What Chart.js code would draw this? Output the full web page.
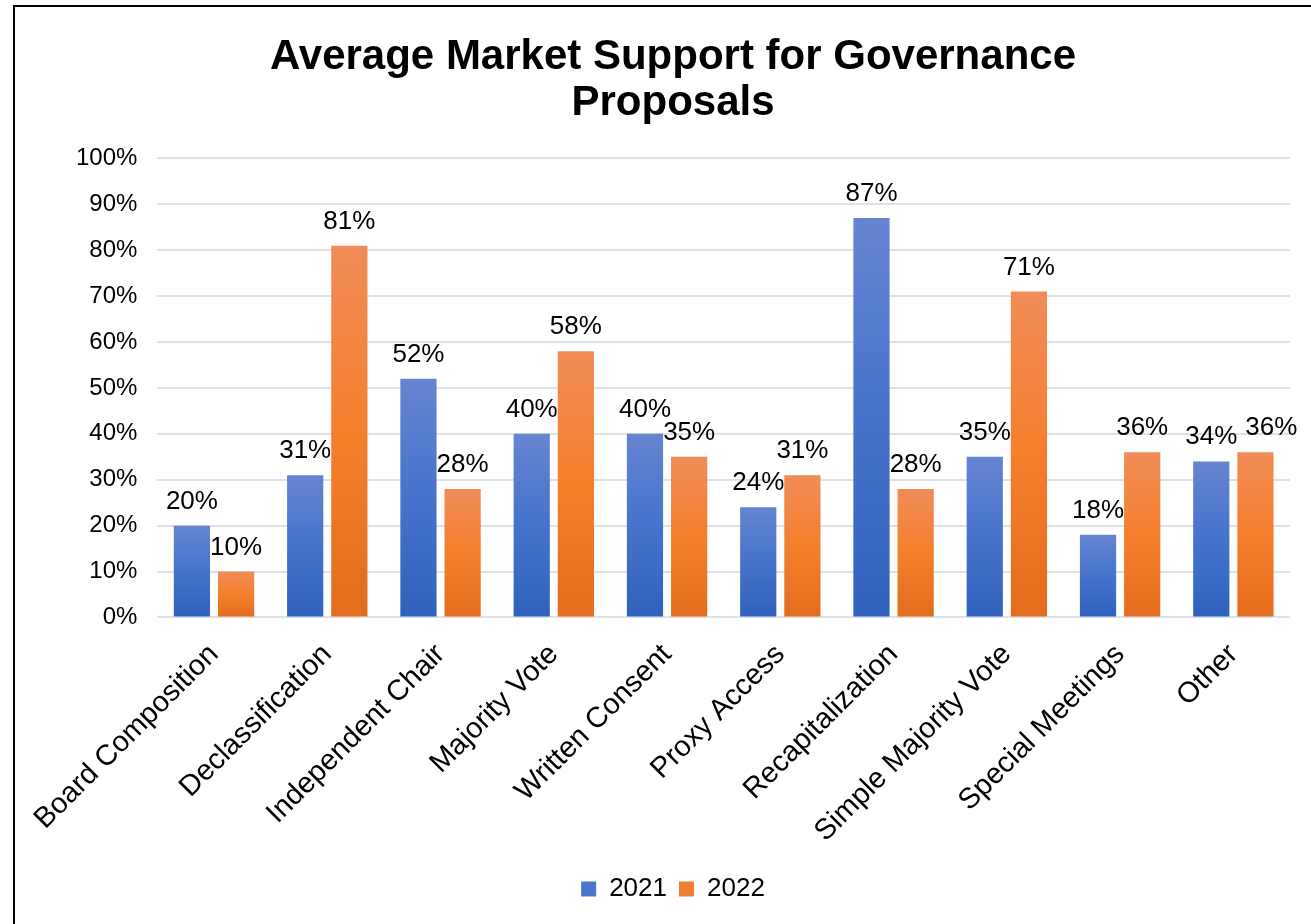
<!DOCTYPE html>
<html>
<head>
<meta charset="utf-8">
<script src="https://cdn.jsdelivr.net/npm/chart.js@4.4.1/dist/chart.umd.min.js"></script>
<style>
  html, body { margin: 0; padding: 0; background: #fff; overflow: hidden; }
  #frame {
    position: absolute; left: 13px; top: 5px; width: 1400px; height: 1000px;
    border-left: 2px solid #000; border-top: 2px solid #000;
  }
  #wrap { position: absolute; left: 0; top: 0; width: 1311px; height: 924px; }
</style>
</head>
<body>
<div id="frame"></div>
<div id="wrap"><canvas id="supportChart"></canvas></div>
<script>
const categories = [
  'Board Composition', 'Declassification', 'Independent Chair', 'Majority Vote',
  'Written Consent', 'Proxy Access', 'Recapitalization', 'Simple Majority Vote',
  'Special Meetings', 'Other'
];
const support2021 = [20, 31, 52, 40, 40, 24, 87, 35, 18, 34];
const support2022 = [10, 81, 28, 58, 35, 31, 28, 71, 36, 36];
const yTicks = [0, 10, 20, 30, 40, 50, 60, 70, 80, 90, 100];

const FONT = 'Liberation Sans, Arial, sans-serif';

// vertical gradient per bar: lighter at the top, darker at the base
function barGradient(top, mid, bottom, flat) {
  return function(ctx) {
    const chart = ctx.chart;
    if (!chart.chartArea || ctx.type !== 'data') return flat;
    const y = chart.scales.y;
    const y0 = y.getPixelForValue(ctx.raw);
    const y1 = y.getPixelForValue(0);
    if (!isFinite(y0) || y1 - y0 < 1) return flat;
    const g = chart.ctx.createLinearGradient(0, y0, 0, y1);
    g.addColorStop(0, top);
    g.addColorStop(0.5, mid);
    g.addColorStop(1, bottom);
    return g;
  };
}

// percentage labels above each bar; the second label of a pair is pushed
// right when both sit at about the same height and would collide
const valueLabels = {
  id: 'valueLabels',
  afterDatasetsDraw(chart) {
    const ctx = chart.ctx;
    ctx.save();
    ctx.font = '26px ' + FONT;
    ctx.fillStyle = '#000';
    ctx.textAlign = 'center';
    ctx.textBaseline = 'alphabetic';
    const first = chart.getDatasetMeta(0).data;
    const second = chart.getDatasetMeta(1).data;
    categories.forEach((c, j) => {
      const t1 = Math.round(chart.data.datasets[0].data[j]) + '%';
      const t2 = Math.round(chart.data.datasets[1].data[j]) + '%';
      const a = first[j], b = second[j];
      const w1 = ctx.measureText(t1).width, w2 = ctx.measureText(t2).width;
      let x2 = b.x;
      if (Math.abs(a.y - b.y) < 20 && (b.x - w2 / 2) < (a.x + w1 / 2 + 8)) {
        x2 = a.x + w1 / 2 + 8 + w2 / 2;
      }
      ctx.fillText(t1, a.x, a.y - 17);
      ctx.fillText(t2, x2, b.y - 17);
    });
    ctx.restore();
  }
};

new Chart(document.getElementById('supportChart'), {
  type: 'bar',
  data: {
    labels: categories,
    datasets: [
      {
        label: '2021',
        data: support2021,
        backgroundColor: barGradient('#6585d0', '#4673cc', '#2f62bc', '#4472c4'),
        categoryPercentage: 0.78,
        barPercentage: 0.82
      },
      {
        label: '2022',
        data: support2022,
        backgroundColor: barGradient('#f18c58', '#f47f2b', '#e36c1d', '#ed7d31'),
        categoryPercentage: 0.78,
        barPercentage: 0.82
      }
    ]
  },
  options: {
    responsive: true,
    maintainAspectRatio: false,
    animation: false,
    layout: { padding: { top: 34, left: 56, right: 21, bottom: 12 } },
    plugins: {
      title: {
        display: true,
        text: ['Average Market Support for Governance', 'Proposals'],
        color: '#000',
        font: { family: FONT, size: 42, weight: 'bold', lineHeight: 1.1 },
        padding: { top: 0, bottom: 32 }
      },
      legend: {
        position: 'bottom',
        labels: {
          color: '#000',
          font: { family: FONT, size: 26 },
          boxWidth: 15,
          boxHeight: 15,
          padding: 12,
          generateLabels(chart) {
            const fills = ['#4a76cb', '#f07f33'];
            return chart.data.datasets.map((ds, i) => ({
              text: ds.label,
              fillStyle: fills[i],
              strokeStyle: fills[i],
              lineWidth: 0,
              datasetIndex: i,
              fontColor: '#000'
            }));
          }
        }
      },
      tooltip: { enabled: false }
    },
    scales: {
      x: {
        grid: { display: false },
        border: { display: false },
        afterFit(axis) {
          // a little room between the rotated labels and the legend
          axis.height += 3;
        },
        ticks: {
          color: '#000',
          font: { family: FONT, size: 29 },
          minRotation: 45,
          maxRotation: 45,
          padding: 12
        }
      },
      y: {
        min: 0,
        max: 100,
        afterBuildTicks(axis) {
          axis.ticks = yTicks.map(v => ({ value: v }));
        },
        grid: { color: '#dde1e8', lineWidth: 2, drawTicks: false },
        border: { display: false },
        ticks: {
          color: '#000',
          font: { family: FONT, size: 24 },
          padding: 20,
          callback: v => v + '%'
        }
      }
    }
  },
  plugins: [valueLabels]
});
</script>
</body>
</html>
